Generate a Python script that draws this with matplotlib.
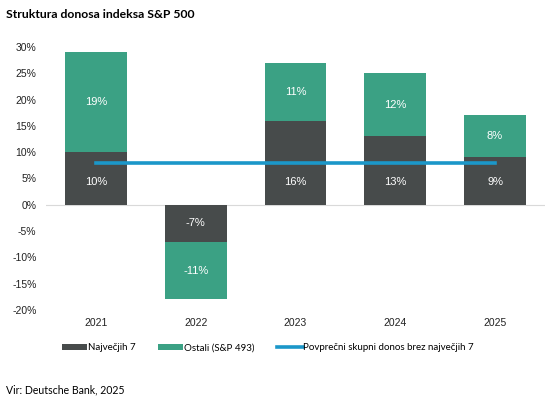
import numpy as np
import matplotlib.pyplot as plt
from matplotlib.ticker import FuncFormatter

# podatki
leta = ['2021', '2022', '2023', '2024', '2025']
najvecjih7 = [10, -7, 16, 13, 9]
ostali = [19, -11, 11, 12, 8]
povprecje = 8

temno = '#474b4b'
zeleno = '#3ba184'
modro = '#1b97c9'

plt.rcParams['font.family'] = ['Liberation Sans', 'DejaVu Sans']

fig = plt.figure(figsize=(5.56, 4.0), dpi=100)
ax = fig.add_axes([0.083, 0.225, 0.897, 0.6575])

x = np.arange(len(leta))
w = 0.62
b1 = ax.bar(x, najvecjih7, w, color=temno, label='Največjih 7', zorder=2)
b2 = ax.bar(x, ostali, w, bottom=najvecjih7, color=zeleno, label='Ostali (S&P 493)', zorder=2)
l1, = ax.plot([x[0], x[-1]], [povprecje, povprecje], color=modro, lw=2.6,
              label='Povprečni skupni donos brez največjih 7', zorder=3)

for i in range(len(leta)):
    v = najvecjih7[i]
    yy = min(v / 2, 4.4) if v > 0 else v / 2
    ax.text(x[i], yy, f'{v}%', ha='center', va='center', color='white', fontsize=8)
    ax.text(x[i], v + ostali[i] / 2, f'{ostali[i]}%',
            ha='center', va='center', color='white', fontsize=8)

ax.set_xlim(-0.5, 4.5)
ax.set_ylim(-20, 30)
ax.set_yticks(range(-20, 31, 5))
ax.yaxis.set_major_formatter(FuncFormatter(lambda v, p: f'{v:.0f}%'))
ax.set_xticks(x)
ax.set_xticklabels(leta)
ax.axhline(0, color='#d9d9d9', lw=0.8, zorder=1)
for s in ax.spines.values():
    s.set_visible(False)
ax.tick_params(length=0, labelsize=7.5, colors='#222222')
ax.tick_params(axis='x', pad=6)
ax.tick_params(axis='y', pad=7)

fig.text(0.01, 0.965, 'Struktura donosa indeksa S&P 500', fontsize=8.8,
         fontweight='bold', family='Lato', va='center')
fig.text(0.01, 0.025, 'Vir: Deutsche Bank, 2025', fontsize=7.6, family='Lato', va='center')

fig.legend(handles=[b1, b2, l1], loc='center', bbox_to_anchor=(0.482, 0.13), ncol=3,
           frameon=False, prop={'family': 'Lato', 'size': 7.0}, handlelength=2.6,
           handleheight=0.65, handletextpad=0.1, columnspacing=2.3)

fig.savefig('out.png', dpi=100)
